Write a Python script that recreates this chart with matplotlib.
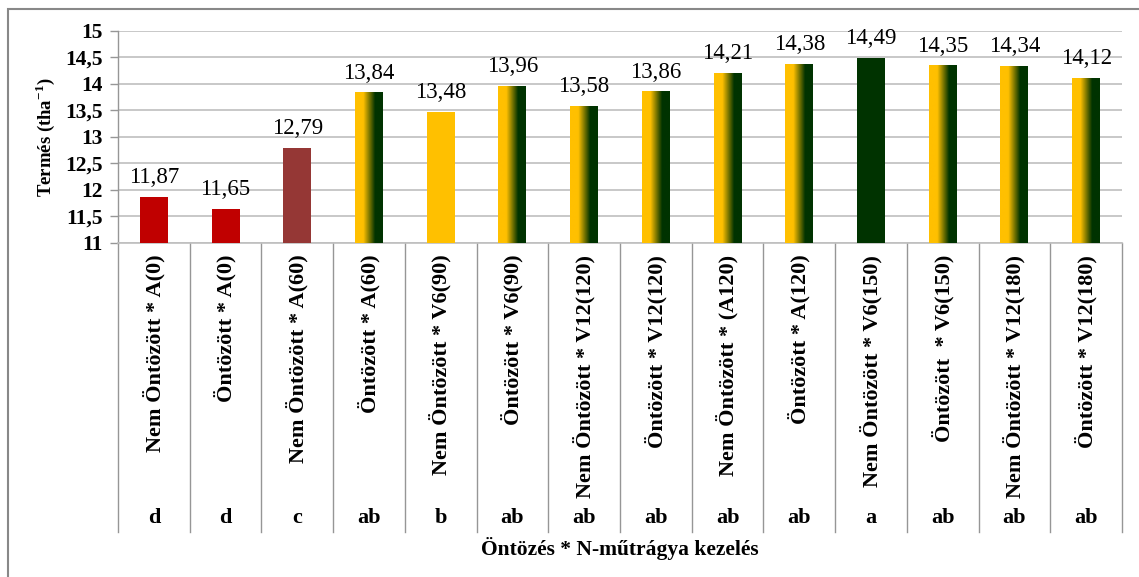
import numpy as np
import matplotlib
matplotlib.use("Agg")
import matplotlib.pyplot as plt
from matplotlib.colors import LinearSegmentedColormap
from matplotlib.ticker import FuncFormatter, MultipleLocator
import matplotlib.transforms as mtransforms
import matplotlib.patches as mpatches

plt.rcParams['font.family'] = ['Liberation Serif', 'DejaVu Serif']
plt.rcParams['mathtext.fontset'] = 'custom'
plt.rcParams['mathtext.rm'] = 'Liberation Serif'
plt.rcParams['mathtext.bf'] = 'Liberation Serif:bold'

# data
categories = ["Nem Öntözött * A(0)", "Öntözött * A(0)", "Nem Öntözött * A(60)",
              "Öntözött * A(60)", "Nem Öntözött * V6(90)", "Öntözött * V6(90)",
              "Nem Öntözött * V12(120)", "Öntözött * V12(120)", "Nem Öntözött * (A120)",
              "Öntözött * A(120)", "Nem Öntözött * V6(150)", "Öntözött  * V6(150)",
              "Nem Öntözött * V12(180)", "Öntözött * V12(180)"]
values = [11.87, 11.65, 12.79, 13.84, 13.48, 13.96, 13.58, 13.86, 14.21,
          14.38, 14.49, 14.35, 14.34, 14.12]
letters = ["d", "d", "c", "ab", "b", "ab", "ab", "ab", "ab", "ab", "a", "ab", "ab", "ab"]
fills = ["red", "red", "darkred", "grad", "yellow", "grad", "grad", "grad",
         "grad", "grad", "green", "grad", "grad", "grad"]

colors = {"red": "#C00000", "darkred": "#953735", "yellow": "#FFC000", "green": "#003300"}
grad_cmap = LinearSegmentedColormap.from_list(
    "yg", [(0, "#FFC000"), (0.3, "#FFC000"), (0.72, "#003300"), (1, "#003300")])

fig = plt.figure(figsize=(11.39, 5.77), dpi=100)
ax = fig.add_axes([0.1036, 0.5789, 0.8815, 0.3674])

x = np.arange(len(values))
bars = ax.bar(x, values, width=0.39, bottom=0,
              color=[colors.get(f, "none") for f in fills], zorder=3)

ax.set_ylim(11, 15)
ax.set_xlim(-0.5, len(values) - 0.5)

# gradient fill for mixed bars
grad = np.linspace(0, 1, 256).reshape(1, -1)
for b, f in zip(bars, fills):
    if f != "grad":
        continue
    x0, w, h = b.get_x(), b.get_width(), b.get_height()
    im = ax.imshow(grad, cmap=grad_cmap, aspect="auto",
                   extent=[x0, x0 + w, 11, h], zorder=3)
    im.set_clip_path(b)

# value labels
for xi, v in zip(x, values):
    ax.annotate(f"{v:.2f}".replace(".", ","), (xi, v), xytext=(0, 10),
                textcoords="offset points", ha="center", va="baseline",
                fontsize=16.5, zorder=4)

ax.yaxis.set_major_locator(MultipleLocator(0.5))
ax.yaxis.set_major_formatter(FuncFormatter(lambda v, p: f"{v:g}".replace(".", ",")))
ax.grid(axis="y", color="#BFBFBF", linewidth=1.2, zorder=0)
ax.set_axisbelow(True)
for lab in ax.get_yticklabels():
    lab.set_fontweight("bold")
ax.tick_params(axis="y", labelsize=15.5, length=6, width=1, color="#969696", pad=5)
ax.tick_params(axis="x", bottom=False, labelbottom=False)
for s in ["top", "right"]:
    ax.spines[s].set_visible(False)
ax.spines["left"].set_color("#969696")
ax.spines["bottom"].set_color("#BFBFBF")
ax.spines["left"].set_linewidth(1)
ax.spines["bottom"].set_linewidth(1.2)

ax.set_ylabel("Termés (tha$^{\\mathbf{-1}}$)", fontsize=13.5, fontweight="bold", labelpad=6)

# category separators, labels and letters under the axis
trans = mtransforms.blended_transform_factory(ax.transData, ax.transAxes)
for b in np.arange(len(values) + 1) - 0.5:
    ax.plot([b, b], [0, -1.363], transform=trans, color="#969696",
            linewidth=1, clip_on=False)
for xi, c, l in zip(x, categories, letters):
    ax.text(xi, -0.055, c, transform=trans, rotation=90, ha="center", va="top",
            fontsize=16, fontweight="bold")
    ax.text(xi, -1.295, l, transform=trans, ha="center", va="center",
            fontsize=16, fontweight="bold")
ax.text(0.5, -1.44, "Öntözés * N-műtrágya kezelés", transform=ax.transAxes,
        ha="center", va="center", fontsize=15.5, fontweight="bold")

# outer chart frame
fig.patches.append(mpatches.Rectangle((8 / 1139, -0.1), 1.2, 1.1 - 9 / 577,
                                      transform=fig.transFigure, fill=False,
                                      edgecolor="#888888", linewidth=1.5))

fig.savefig("out.png", dpi=100)
